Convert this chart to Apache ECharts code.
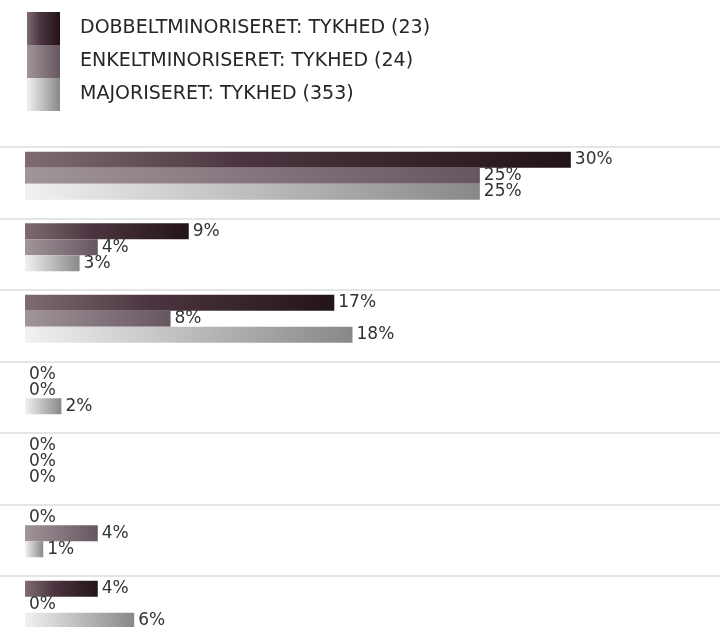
<!DOCTYPE html>
<html>
<head>
<meta charset="utf-8">
<script src="https://cdn.jsdelivr.net/npm/echarts@6/dist/echarts.min.js"></script>
<style>
html,body{margin:0;padding:0;background:#fff;}
#chart{width:720px;height:627px;}
</style>
</head>
<body>
<div id="chart"></div>
<script>
var categories = ['1', '2', '3', '4', '5', '6', '7'];
var seriesNames = ['DOBBELTMINORISERET: TYKHED (23)', 'ENKELTMINORISERET: TYKHED (24)', 'MAJORISERET: TYKHED (353)'];
var dobbelt = [30, 9, 17, 0, 0, 0, 4];
var enkelt = [25, 4, 8, 0, 0, 4, 0];
var major = [25, 3, 18, 2, 0, 1, 6];

var FONT = 'DejaVu Sans';

function grad(stops) {
  return new echarts.graphic.LinearGradient(0, 0, 1, 0, stops.map(function (s) { return { offset: s[0], color: s[1] }; }));
}
var gradients = [
  grad([[0, '#7e6c72'], [0.4, '#4c3540'], [1, '#231418']]),
  grad([[0, '#a0959a'], [1, '#675660']]),
  grad([[0, '#f2f0f0'], [1, '#8a8788']])
];
var values = [dobbelt, enkelt, major];

var chart = echarts.init(document.getElementById('chart'), null, { renderer: 'canvas' });
var series = seriesNames.map(function (name, i) {
  return {
    name: name,
    type: 'bar',
    xAxisIndex: 0,
    yAxisIndex: 0,
    data: values[i],
    barWidth: 16,
    barGap: '0%',
    itemStyle: { color: gradients[i] },
    label: {
      show: true,
      position: 'right',
      distance: 4,
      formatter: '{c}%',
      fontFamily: FONT,
      fontSize: 17,
      color: '#333'
    }
  };
});

chart.setOption({
  animation: false,
  backgroundColor: '#fff',
  legend: {
    orient: 'vertical',
    left: 27,
    top: 12,
    itemWidth: 33,
    itemHeight: 33,
    itemGap: 0,
    padding: 0,
    icon: 'rect',
    data: seriesNames,
    textStyle: {
      fontFamily: FONT,
      fontSize: 19,
      color: '#262626',
      padding: [0, 0, 0, 15]
    }
  },
  grid: [
    { left: 25, top: 140, width: 655, height: 500.5, outerBoundsMode: 'none', containLabel: false },
    { left: 0, top: 147, right: 0, height: 500.5, outerBoundsMode: 'none', containLabel: false }
  ],
  xAxis: [
    { type: 'value', gridIndex: 0, min: 0, max: 36, show: false },
    { type: 'value', gridIndex: 1, min: 0, max: 1, show: false }
  ],
  yAxis: [
    { type: 'category', gridIndex: 0, data: categories, inverse: true,
      axisLine: { show: false }, axisTick: { show: false }, axisLabel: { show: false }, splitLine: { show: false } },
    { type: 'category', gridIndex: 1, data: categories, inverse: true,
      axisLine: { show: false }, axisTick: { show: false }, axisLabel: { show: false },
      splitLine: { show: true, lineStyle: { color: '#dcdcdc', width: 1.5 } } }
  ],
  series: series
});
</script>
</body>
</html>
